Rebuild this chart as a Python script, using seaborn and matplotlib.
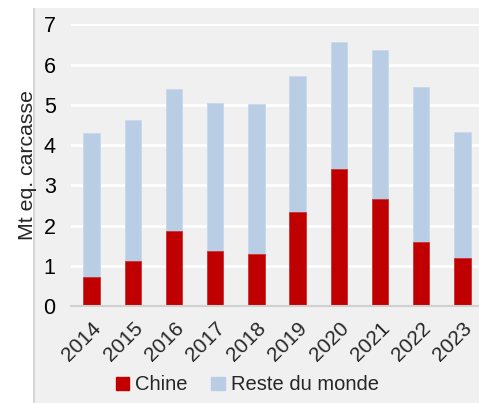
import matplotlib
matplotlib.use("Agg")
import matplotlib.pyplot as plt
import matplotlib.patches as mpatches
import seaborn as sns
import pandas as pd

years = ['2014', '2015', '2016', '2017', '2018', '2019', '2020', '2021', '2022', '2023']
chine = [0.72, 1.13, 1.86, 1.37, 1.28, 2.34, 3.41, 2.66, 1.59, 1.19]
reste = [3.59, 3.48, 3.52, 3.68, 3.74, 3.37, 3.14, 3.69, 3.84, 3.14]

red = '#c00000'
blue = '#b9cde5'
bg = '#f0f0f0'

df = pd.DataFrame({'annee': years, 'Chine': chine, 'Reste du monde': reste})
df['total'] = df['Chine'] + df['Reste du monde']

sns.set_style('white')
plt.rcParams['font.family'] = ['Liberation Sans', 'DejaVu Sans']

fig = plt.figure(figsize=(4.79, 4.03), dpi=100)
fig.patch.set_facecolor('white')
# grey panel behind the chart, with a soft left shadow
fig.patches.append(mpatches.Rectangle((35 / 479, 0), 1, (403 - 8) / 403,
                                      transform=fig.transFigure, facecolor=bg,
                                      edgecolor='none', zorder=-10))
fig.patches.append(mpatches.Rectangle((33 / 479, 0), 2 / 479, (403 - 8) / 403,
                                      transform=fig.transFigure, facecolor='#d6d6d6',
                                      edgecolor='none', zorder=-10))

ax = fig.add_axes([71 / 479, (403 - 306) / 403, 412 / 479, (306 - 24.3) / 403])
ax.set_facecolor(bg)

sns.barplot(data=df, x='annee', y='total', color=blue, width=0.4,
            saturation=1, ax=ax, zorder=3, linewidth=0.6, edgecolor='#c8d8ea')
sns.barplot(data=df, x='annee', y='Chine', color=red, width=0.4,
            saturation=1, ax=ax, zorder=4, linewidth=0.6, edgecolor='#cc3333')

ax.set_ylim(0, 7)
ax.set_xlim(-0.5, 9.5)
ax.set_yticks(range(0, 8))
ax.yaxis.grid(True, color='white', linewidth=2, zorder=1)
ax.set_axisbelow(True)
for s in ['top', 'right', 'left']:
    ax.spines[s].set_visible(False)
ax.spines['bottom'].set_color('#d0d0d0')
ax.spines['bottom'].set_linewidth(1.5)
ax.spines['bottom'].set_zorder(5)

ax.tick_params(axis='y', length=0, labelsize=15.5, pad=11, colors='#000000')
ax.tick_params(axis='x', length=0, labelsize=15, pad=9)
plt.setp(ax.get_xticklabels(), rotation=45, ha='right', rotation_mode='anchor')
ax.set_xlabel('')
ax.set_ylabel('Mt eq. carcasse', fontsize=15.3, labelpad=5)

handles = [mpatches.Patch(color=red, label='Chine'),
           mpatches.Patch(color=blue, label='Reste du monde')]
fig.legend(handles=handles, loc='center', bbox_to_anchor=(0.516, 0.045), ncol=2,
           frameon=False, fontsize=14.5, handlelength=0.65, handleheight=0.65,
           handletextpad=0.3, columnspacing=1.2)

fig.savefig('out.png', dpi=100)
